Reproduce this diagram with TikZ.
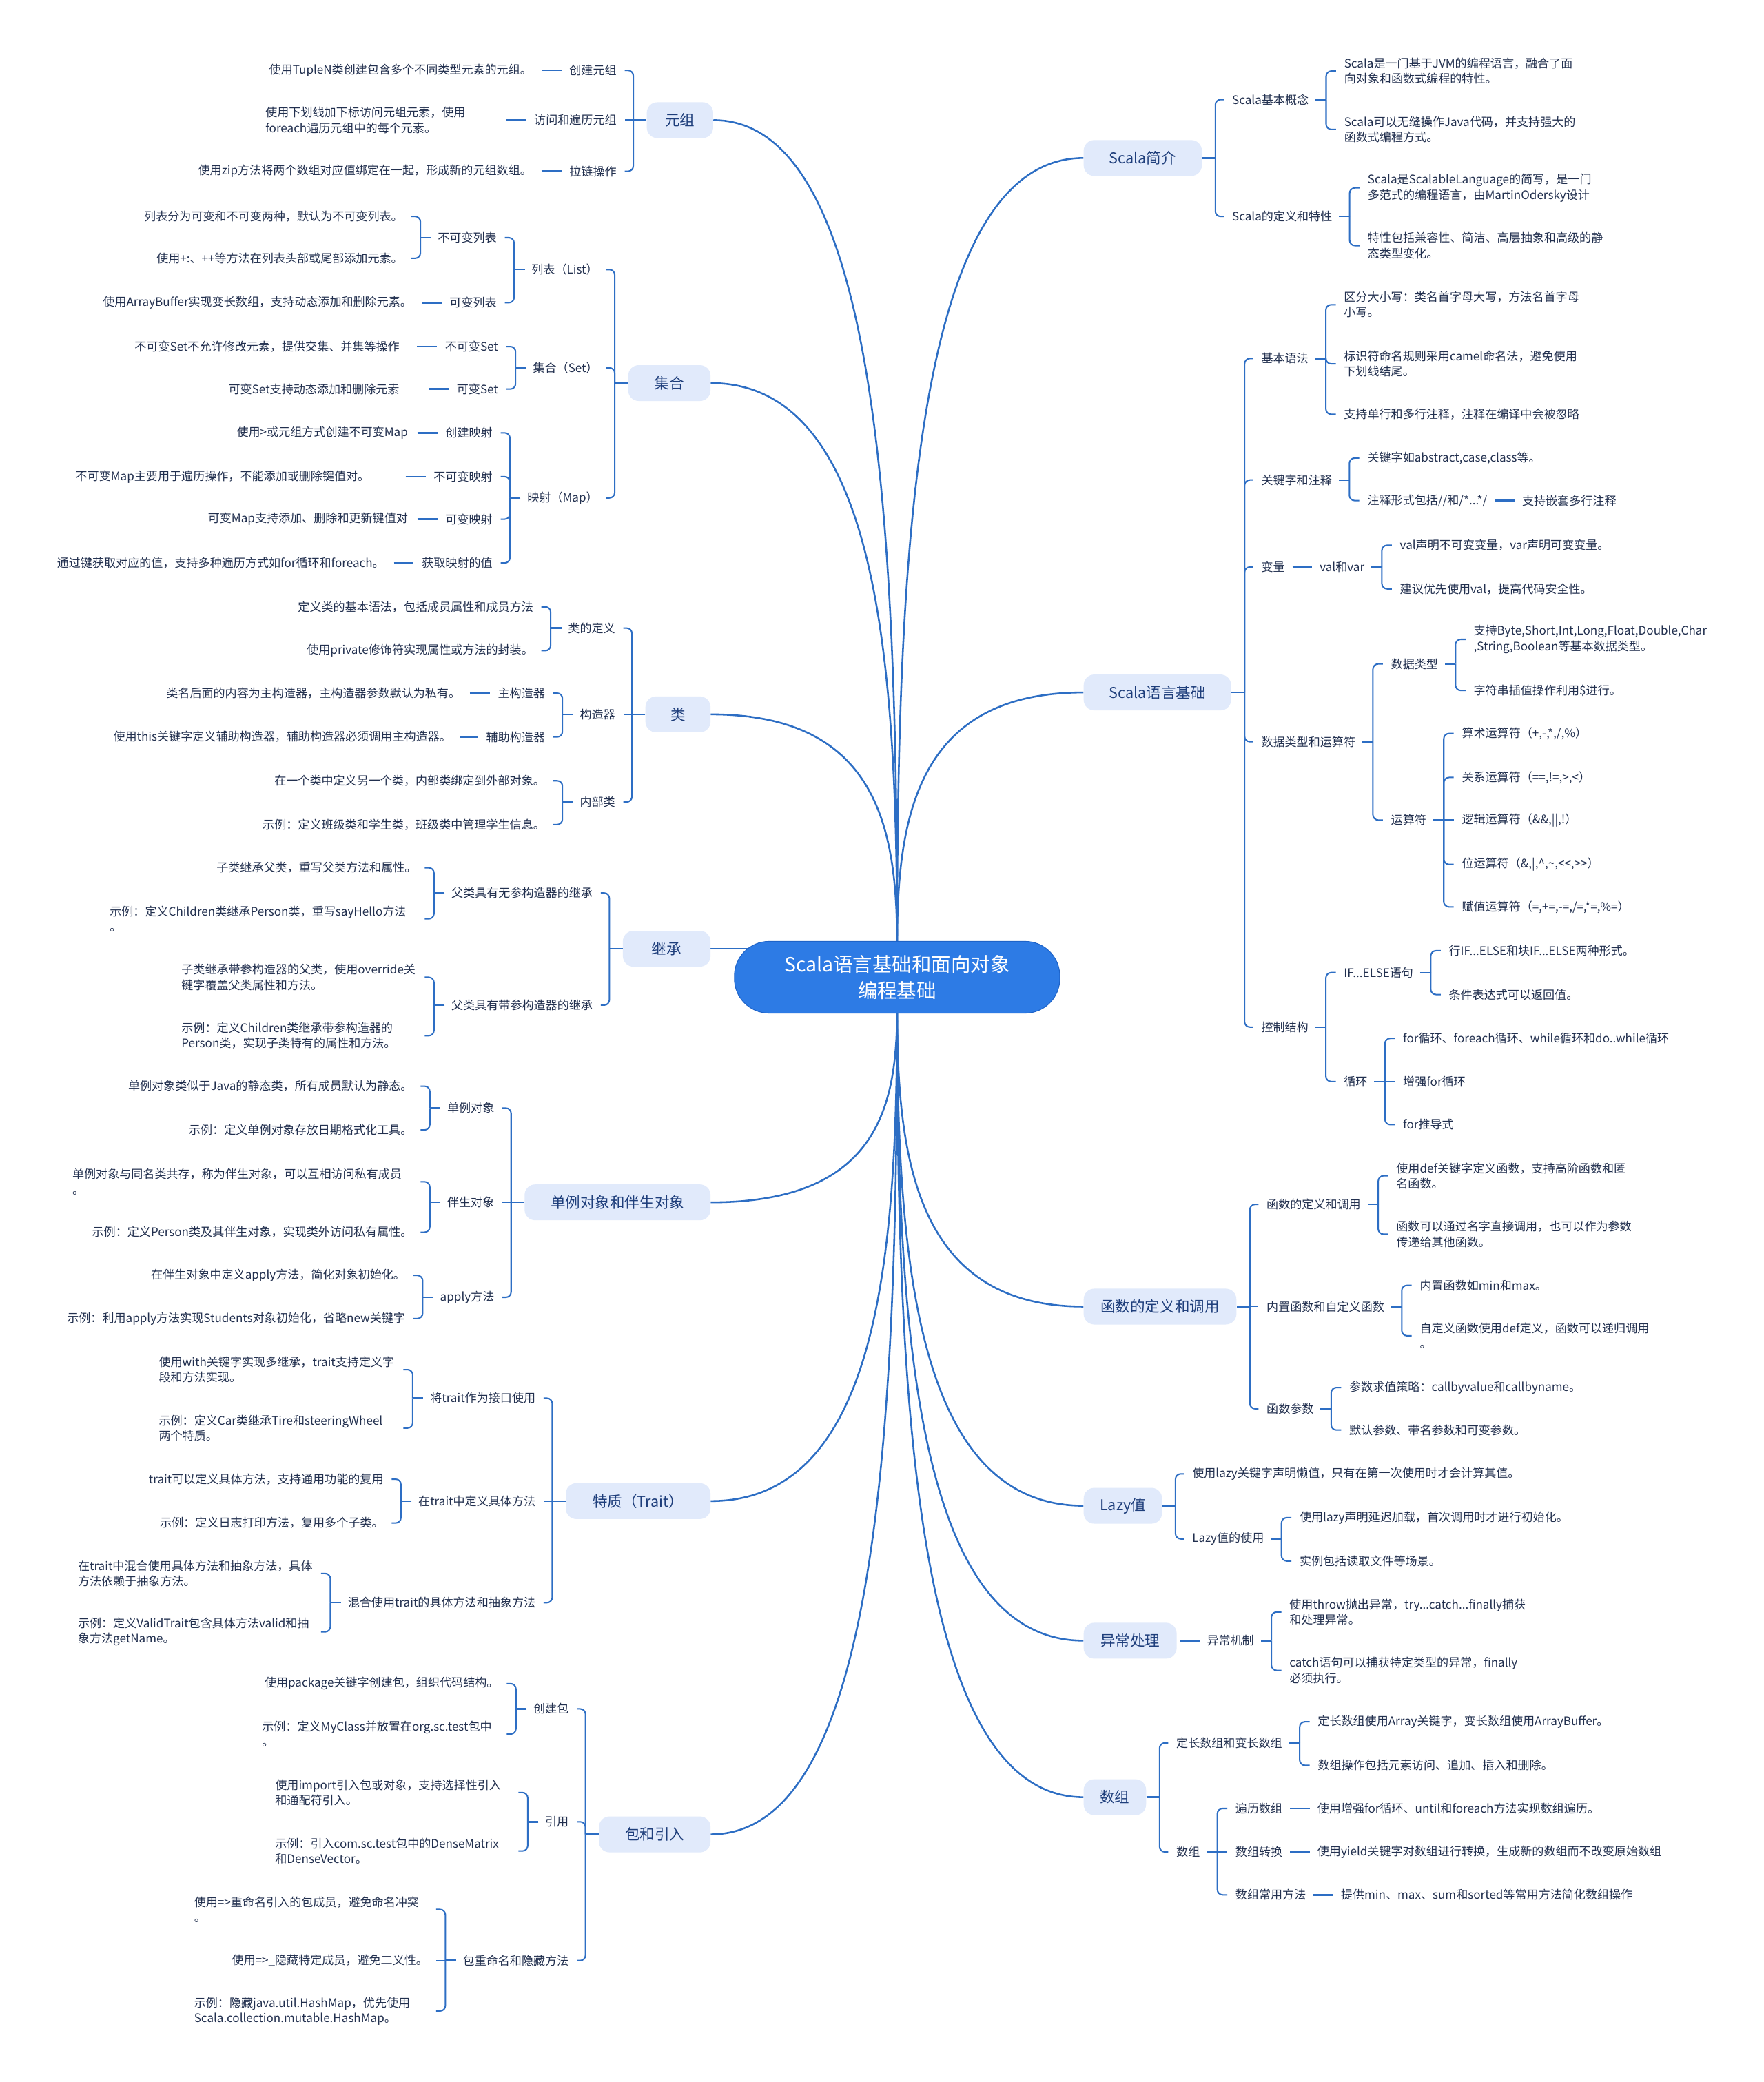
\documentclass[tikz,border=0pt]{standalone}
\usepackage{fontspec}
\setmainfont{Noto Sans CJK SC}
\usetikzlibrary{calc}
\pgfdeclarelayer{bg}
\pgfsetlayers{bg,main}
\hyphenpenalty=10000 \exhyphenpenalty=10000
\definecolor{lnc}{HTML}{2D6EC4}
\definecolor{bfill}{HTML}{E1EAFB}
\definecolor{btext}{HTML}{1E3E7B}
\definecolor{tx}{HTML}{22304F}
\definecolor{cfill}{HTML}{2D7BE5}
\definecolor{cborder}{HTML}{1E63C8}
\newcommand\fs{\fontsize{12.6pt}{16.4pt}\selectfont}
\newcommand\fb{\fontsize{15.9pt}{19pt}\selectfont}
\newcommand\fc{\fontsize{21pt}{28.4pt}\selectfont}
% bracket points
\newcommand\bLm[1]{\coordinate (#1b) at ([xshift=-5mm]#1.west); \draw[stb] (#1.west) -- (#1b);}
\newcommand\bL[1]{\coordinate (#1b) at ([xshift=-6.5mm]#1.west); \draw[stb=2.5mm] (#1.west) -- (#1b);}
\newcommand\bRm[1]{\coordinate (#1b) at ([xshift=5mm]#1.east); \draw[stb] (#1.east) -- (#1b);}
\newcommand\bR[1]{\coordinate (#1b) at ([xshift=6.5mm]#1.east); \draw[stb=2.5mm] (#1.east) -- (#1b);}
% bracket children
\newcommand\kLm[5][]{\node[txl,xshift=-11.25mm,#1] (#2) at (#3.west |- 0,#4) {#5}; \draw[brk] (#3b) |- (#2.east);}
\newcommand\kL[5][]{\node[txl,xshift=-13mm,#1] (#2) at (#3.west |- 0,#4) {#5}; \draw[brk] (#3b) |- (#2.east);}
\newcommand\kRm[5][]{\node[txr,xshift=11.25mm,#1] (#2) at (#3.east |- 0,#4) {#5}; \draw[brk] (#3b) |- (#2.west);}
\newcommand\kR[5][]{\node[txr,xshift=13.25mm,#1] (#2) at (#3.east |- 0,#4) {#5}; \draw[brk] (#3b) |- (#2.west);}
% straight bracket children (same height as parent)
\newcommand\kLms[4][]{\node[txl,xshift=-11.25mm,#1] (#2) at (#3.west) {#4}; \draw[brk] (#3b) -- (#2.east);}
\newcommand\kLs[4][]{\node[txl,xshift=-13mm,#1] (#2) at (#3.west) {#4}; \draw[brk] (#3b) -- (#2.east);}
\newcommand\kRms[4][]{\node[txr,xshift=11.25mm,#1] (#2) at (#3.east) {#4}; \draw[brk] (#3b) -- (#2.west);}
\newcommand\kRs[4][]{\node[txr,xshift=13.25mm,#1] (#2) at (#3.east) {#4}; \draw[brk] (#3b) -- (#2.west);}
% single children with dash
\newcommand\dL[6][]{\node[txl,xshift=-#4,#1] (#2) at (#3.west) {#6}; \draw[dashL=#5] (#2.east) -- (#3.west);}
\newcommand\dR[3]{\node[txr,xshift=13mm] (#1) at (#2.east) {#3}; \draw[dashR] (#2.east) -- (#1.west);}
% main curves
\newcommand\mL[2]{\coordinate (#1k) at (#2 |- #1.east); \draw[mainln] (#2) .. controls ($(#2)!0.5!(#1k)$) and ($(#1k)!0.1!(#1.east)$) .. (#1.east);}
\newcommand\mR[2]{\coordinate (#1k) at (#2 |- #1.west); \draw[mainln] (#2) .. controls ($(#2)!0.5!(#1k)$) and ($(#1k)!0.1!(#1.west)$) .. (#1.west);}
\begin{document}
\begin{tikzpicture}[x=0.5mm,y=-0.5mm,
  txt/.style={font=\fs,text=tx,inner sep=0pt,align=left},
  txl/.style={txt,anchor=east},
  txr/.style={txt,anchor=west},
  mbox/.style={fill=bfill,rounded corners=4mm,minimum height=13.5mm,inner sep=0pt,font=\fb,text=btext},
  cnode/.style={fill=cfill,draw=cborder,line width=0.8pt,rounded corners=13mm,minimum width=122.5mm,minimum height=27mm,inner sep=0pt,font=\fc,text=white,align=center},
  mainln/.style={draw=lnc,line width=1.9pt},
  brk/.style={draw=lnc,line width=1.5pt,rounded corners=2mm,shorten >=3mm},
  stb/.style={draw=lnc,line width=1.8pt,shorten <=#1},stb/.default=0mm,
  dashL/.style={draw=lnc,line width=1.8pt,shorten >=3mm,shorten <=#1},dashL/.default=3.5mm,
  dashR/.style={draw=lnc,line width=1.8pt,shorten >=2.75mm,shorten <=2.75mm}]
\useasboundingbox (0,0) rectangle (1328,1568);

% ---- centre and main branches ----
\node[cnode] (C) at (675.5,736) {Scala语言基础和面向对象\\编程基础};
\coordinate (ct) at (675.5,712);
\coordinate (cb) at (675.5,760);

\node[mbox,minimum width=25mm] (yz) at (512,90.5) {元组};
\node[mbox,minimum width=31mm] (jh) at (504,288.5) {集合};
\node[mbox,minimum width=24.5mm] (lei) at (510.5,538) {类};
\node[mbox,minimum width=33mm] (inh) at (502,714.5) {继承};
\node[mbox,minimum width=70mm] (dl) at (465,905.5) {单例对象和伴生对象};
\node[mbox,minimum width=54.5mm] (tz) at (480.5,1130.5) {特质（Trait）};
\node[mbox,minimum width=42mm] (bao) at (493,1381.5) {包和引入};

\node[mbox,minimum width=44.5mm] (intro) at (860.5,119) {Scala简介};
\node[mbox,minimum width=55.5mm] (base) at (871.5,521.5) {Scala语言基础};
\node[mbox,minimum width=57.5mm] (func) at (873.5,984) {函数的定义和调用};
\node[mbox,minimum width=29.5mm] (lazy) at (845.5,1134) {Lazy值};
\node[mbox,minimum width=35mm] (exc) at (851,1235.6) {异常处理};
\node[mbox,minimum width=23.5mm] (arr) at (839.5,1353.5) {数组};

\begin{pgfonlayer}{bg}
\fill[white] (0,0) rectangle (1328,1568);
\mL{yz}{ct}
\mL{jh}{ct}
\mL{lei}{ct}
\mR{intro}{ct}
\mR{base}{ct}
\draw[mainln] (inh.east) -- (inh.east -| C.center);
\mL{dl}{cb}
\mL{tz}{cb}
\mL{bao}{cb}
\mR{func}{cb}
\mR{lazy}{cb}
\mR{exc}{cb}
\mR{arr}{cb}
\end{pgfonlayer}

% ---- 元组 ----
\bLm{yz}
\kLm{ya}{yz}{53}{创建元组}
\kLms{yb}{yz}{访问和遍历元组}
\kLm{yc}{yz}{129}{拉链操作}
\dL{ya1}{ya}{14mm}{3.5mm}{使用TupleN类创建包含多个不同类型元素的元组。}
\dL[text width=87mm]{yb1}{yb}{14mm}{3.5mm}{使用下划线加下标访问元组元素，使用\\foreach遍历元组中的每个元素。}
\dL{yc1}{yc}{14mm}{3.5mm}{使用zip方法将两个数组对应值绑定在一起，形成新的元组数组。}

% ---- 集合 ----
\bLm{jh}
\kLm{ja}{jh}{203}{列表（List）}
\kLm{jb}{jh}{277}{集合（Set）}
\kLm{jm}{jh}{375}{映射（Map）}
\bL{ja}
\kL{ja1}{ja}{179}{不可变列表}
\kL{ja2}{ja}{228}{可变列表}
\bL{ja1}
\kL{ja11}{ja1}{163}{列表分为可变和不可变两种，默认为不可变列表。}
\kL{ja12}{ja1}{194.5}{使用+:、++等方法在列表头部或尾部添加元素。}
\dL{ja21}{ja2}{14mm}{3.5mm}{使用ArrayBuffer实现变长数组，支持动态添加和删除元素。}
\bL{jb}
\kL{jb1}{jb}{261}{不可变Set}
\kL{jb2}{jb}{293}{可变Set}
\dL{jb11}{jb1}{17mm}{6.5mm}{不可变Set不允许修改元素，提供交集、并集等操作}
\dL{jb21}{jb2}{21.5mm}{11mm}{可变Set支持动态添加和删除元素}
\bL{jm}
\kL{jm1}{jm}{326}{创建映射}
\kL{jm2}{jm}{359}{不可变映射}
\kL{jm3}{jm}{391}{可变映射}
\kL{jm4}{jm}{424}{获取映射的值}
\dL{jm11}{jm1}{14mm}{3.5mm}{使用>或元组方式创建不可变Map}
\dL{jm21}{jm2}{24mm}{13.5mm}{不可变Map主要用于遍历操作，不能添加或删除键值对。}
\dL{jm31}{jm3}{14mm}{3.5mm}{可变Map支持添加、删除和更新键值对}
\dL{jm41}{jm4}{14mm}{3.5mm}{通过键获取对应的值，支持多种遍历方式如for循环和foreach。}

% ---- 类 ----
\bLm{lei}
\kLm{la}{lei}{473}{类的定义}
\kLms{lb}{lei}{构造器}
\kLm{lc}{lei}{604}{内部类}
\bL{la}
\kL{la1}{la}{457}{定义类的基本语法，包括成员属性和成员方法}
\kL{la2}{la}{490}{使用private修饰符实现属性或方法的封装。}
\bL{lb}
\kL{lb1}{lb}{522}{主构造器}
\kL{lb2}{lb}{555}{辅助构造器}
\dL{lb11}{lb1}{14mm}{3.5mm}{类名后面的内容为主构造器，主构造器参数默认为私有。}
\dL{lb21}{lb2}{13mm}{3mm}{使用this关键字定义辅助构造器，辅助构造器必须调用主构造器。}
\bL{lc}
\kL{lc1}{lc}{588}{在一个类中定义另一个类，内部类绑定到外部对象。}
\kL{lc2}{lc}{621}{示例：定义班级类和学生类，班级类中管理学生信息。}

% ---- 继承 ----
\bLm{inh}
\kLm{ia}{inh}{672.5}{父类具有无参构造器的继承}
\kLm{ib}{inh}{757}{父类具有带参构造器的继承}
\bL{ia}
\kL{ia1}{ia}{653.5}{子类继承父类，重写父类方法和属性。}
\kL[text width=115.5mm]{ia2}{ia}{692}{示例：定义Children类继承Person类，重写sayHello方法\\。}
\bL{ib}
\kL[text width=88.5mm]{ib1}{ib}{736}{子类继承带参构造器的父类，使用override关\\键字覆盖父类属性和方法。}
\kL[text width=88.5mm]{ib2}{ib}{780}{示例：定义Children类继承带参构造器的\\Person类，实现子类特有的属性和方法。}

% ---- 单例对象和伴生对象 ----
\bLm{dl}
\kLm{da}{dl}{834.5}{单例对象}
\kLms{db}{dl}{伴生对象}
\kLm{dc}{dl}{977}{apply方法}
\bL{da}
\kL{da1}{da}{818}{单例对象类似于Java的静态类，所有成员默认为静态。}
\kL{da2}{da}{851}{示例：定义单例对象存放日期格式化工具。}
\bL{db}
\kL[text width=128mm]{db1}{db}{890}{单例对象与同名类共存，称为伴生对象，可以互相访问私有成员\\。}
\kL{db2}{db}{928}{示例：定义Person类及其伴生对象，实现类外访问私有属性。}
\bL{dc}
\kL{dc1}{dc}{960.5}{在伴生对象中定义apply方法，简化对象初始化。}
\kL{dc2}{dc}{993}{示例：利用apply方法实现Students对象初始化，省略new关键字}

% ---- 特质 ----
\bLm{tz}
\kLm{ta}{tz}{1053}{将trait作为接口使用}
\kLms{tb}{tz}{在trait中定义具体方法}
\kLm{tc}{tz}{1207}{混合使用trait的具体方法和抽象方法}
\bL{ta}
\kL[text width=89mm]{ta1}{ta}{1031.5}{使用with关键字实现多继承，trait支持定义字\\段和方法实现。}
\kL[text width=89mm]{ta2}{ta}{1075.5}{示例：定义Car类继承Tire和steeringWheel\\两个特质。}
\bL{tb}
\kL{tb1}{tb}{1114}{trait可以定义具体方法，支持通用功能的复用}
\kL{tb2}{tb}{1147}{示例：定义日志打印方法，复用多个子类。}
\bL{tc}
\kL[text width=88.5mm]{tc1}{tc}{1185}{在trait中混合使用具体方法和抽象方法，具体\\方法依赖于抽象方法。}
\kL[text width=88.5mm]{tc2}{tc}{1229}{示例：定义ValidTrait包含具体方法valid和抽\\象方法getName。}

% ---- 包和引入 ----
\bLm{bao}
\kLm{ba}{bao}{1287}{创建包}
\kLm{bb}{bao}{1372}{引用}
\kLm{bc}{bao}{1476.5}{包重命名和隐藏方法}
\bL{ba}
\kL{ba1}{ba}{1268}{使用package关键字创建包，组织代码结构。}
\kL[text width=89mm]{ba2}{ba}{1306}{示例：定义MyClass并放置在org.sc.test包中\\。}
\bL{bb}
\kL[text width=88.5mm]{bb1}{bb}{1350}{使用import引入包或对象，支持选择性引入\\和通配符引入。}
\kL[text width=88.5mm]{bb2}{bb}{1394}{示例：引入com.sc.test包中的DenseMatrix\\和DenseVector。}
\bL{bc}
\kL[text width=88mm]{bc1}{bc}{1438}{使用=>重命名引入的包成员，避免命名冲突\\。}
\kLs{bc2}{bc}{使用=>\_隐藏特定成员，避免二义性。}
\kL[text width=88mm]{bc3}{bc}{1514.5}{示例：隐藏java.util.HashMap，优先使用\\Scala.collection.mutable.HashMap。}

% ---- Scala简介 ----
\bRm{intro}
\kRm{sa}{intro}{75}{Scala基本概念}
\kRm{sb}{intro}{163}{Scala的定义和特性}
\bR{sa}
\kR{sa1}{sa}{53.5}{Scala是一门基于JVM的编程语言，融合了面\\向对象和函数式编程的特性。}
\kR{sa2}{sa}{97.5}{Scala可以无缝操作Java代码，并支持强大的\\函数式编程方式。}
\bR{sb}
\kR{sb1}{sb}{141.5}{Scala是ScalableLanguage的简写，是一门\\多范式的编程语言，由MartinOdersky设计}
\kR{sb2}{sb}{185}{特性包括兼容性、简洁、高层抽象和高级的静\\态类型变化。}

% ---- Scala语言基础 ----
\bRm{base}
\kRm{ga}{base}{270}{基本语法}
\kRm{gb}{base}{361.5}{关键字和注释}
\kRm{gc}{base}{427}{变量}
\kRm{gd}{base}{558.6}{数据类型和运算符}
\kRm{ge}{base}{773.5}{控制结构}
\bR{ga}
\kR{ga1}{ga}{229.5}{区分大小写：类名首字母大写，方法名首字母\\小写。}
\kR{ga2}{ga}{274}{标识符命名规则采用camel命名法，避免使用\\下划线结尾。}
\kR{ga3}{ga}{312}{支持单行和多行注释，注释在编译中会被忽略}
\bR{gb}
\kR{gb1}{gb}{345}{关键字如abstract,case,class等。}
\kR{gb2}{gb}{377}{注释形式包括//和/*...*/}
\dR{gb21}{gb2}{支持嵌套多行注释}
\dR{gc1}{gc}{val和var}
\bR{gc1}
\kR{gc11}{gc1}{410.6}{val声明不可变变量，var声明可变变量。}
\kR{gc12}{gc1}{443.5}{建议优先使用val，提高代码安全性。}
\bR{gd}
\kR{gd1}{gd}{500}{数据类型}
\kR{gd2}{gd}{617.6}{运算符}
\bR{gd1}
\kR{gd11}{gd1}{481.5}{支持Byte,Short,Int,Long,Float,Double,Char\\,String,Boolean等基本数据类型。}
\kR{gd12}{gd1}{520}{字符串插值操作利用\$进行。}
\bR{gd2}
\kR{gd21}{gd2}{552.4}{算术运算符（+,-,*,/,\%）}
\kR{gd22}{gd2}{585.5}{关系运算符（==,!=,>,<）}
\kRs{gd23}{gd2}{逻辑运算符（\&\&,||,!）}
\kR{gd24}{gd2}{651}{位运算符（\&,|,\textasciicircum,\textasciitilde,<\kern0pt<,>\kern0pt>）}
\kR{gd25}{gd2}{683}{赋值运算符（=,+=,-=,/=,*=,\%=）}
\bR{ge}
\kR{ge1}{ge}{732.5}{IF...ELSE语句}
\kR{ge2}{ge}{814.5}{循环}
\bR{ge1}
\kR{ge11}{ge1}{716}{行IF...ELSE和块IF...ELSE两种形式。}
\kR{ge12}{ge1}{749}{条件表达式可以返回值。}
\bR{ge2}
\kR{ge21}{ge2}{782}{for循环、foreach循环、while循环和do..while循环}
\kRs{ge22}{ge2}{增强for循环}
\kR{ge23}{ge2}{847}{for推导式}

% ---- 函数的定义和调用 ----
\bRm{func}
\kRm{fa}{func}{907}{函数的定义和调用}
\kRms{fb}{func}{内置函数和自定义函数}
\kRm{fc}{func}{1061}{函数参数}
\bR{fa}
\kR{fa1}{fa}{885.5}{使用def关键字定义函数，支持高阶函数和匿\\名函数。}
\kR{fa2}{fa}{929.5}{函数可以通过名字直接调用，也可以作为参数\\传递给其他函数。}
\bR{fb}
\kR{fb1}{fb}{968}{内置函数如min和max。}
\kR{fb2}{fb}{1006}{自定义函数使用def定义，函数可以递归调用\\。}
\bR{fc}
\kR{fc1}{fc}{1045}{参数求值策略：callbyvalue和callbyname。}
\kR{fc2}{fc}{1077}{默认参数、带名参数和可变参数。}

% ---- Lazy值 ----
\bRm{lazy}
\kRm{za}{lazy}{1110}{使用lazy关键字声明懒值，只有在第一次使用时才会计算其值。}
\kRm{zb}{lazy}{1159}{Lazy值的使用}
\bR{zb}
\kR{zb1}{zb}{1143}{使用lazy声明延迟加载，首次调用时才进行初始化。}
\kR{zb2}{zb}{1175.6}{实例包括读取文件等场景。}

% ---- 异常处理 ----
\node[txr,xshift=11.25mm] (ea) at (exc.east) {异常机制};
\draw[dashR,shorten <=1mm] (exc.east) -- (ea.west);
\bR{ea}
\kR{ea1}{ea}{1214}{使用throw抛出异常，try...catch...finally捕获\\和处理异常。}
\kR{ea2}{ea}{1258}{catch语句可以捕获特定类型的异常，finally\\必须执行。}

% ---- 数组 ----
\bRm{arr}
\kRm{aa}{arr}{1312.6}{定长数组和变长数组}
\kRm{ab}{arr}{1394.7}{数组}
\bR{aa}
\kR{aa1}{aa}{1296.7}{定长数组使用Array关键字，变长数组使用ArrayBuffer。}
\kR{aa2}{aa}{1329.5}{数组操作包括元素访问、追加、插入和删除。}
\bR{ab}
\kR{ab1}{ab}{1362}{遍历数组}
\kRs{ab2}{ab}{数组转换}
\kR{ab3}{ab}{1427}{数组常用方法}
\dR{ab11}{ab1}{使用增强for循环、until和foreach方法实现数组遍历。}
\dR{ab21}{ab2}{使用yield关键字对数组进行转换，生成新的数组而不改变原始数组}
\dR{ab31}{ab3}{提供min、max、sum和sorted等常用方法简化数组操作}
\end{tikzpicture}
\end{document}
